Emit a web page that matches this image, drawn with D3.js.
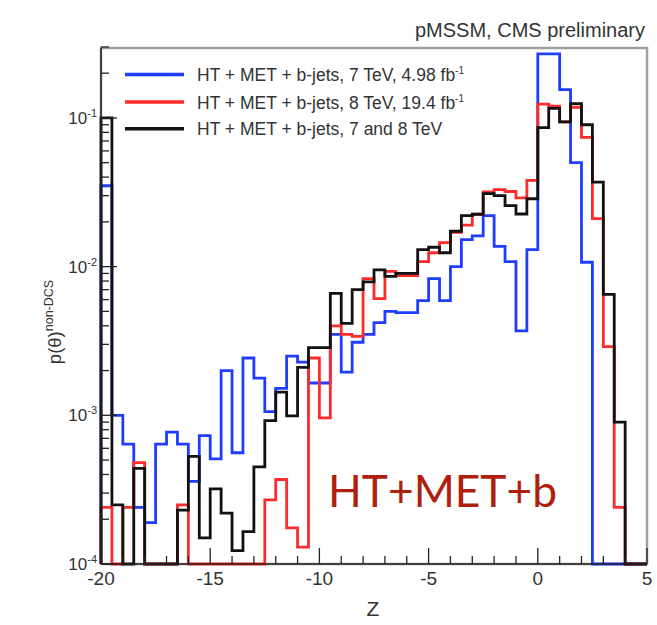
<!DOCTYPE html>
<html>
<head>
<meta charset="utf-8">
<script src="https://cdn.jsdelivr.net/npm/d3@7/dist/d3.min.js"></script>
<style>
  body { margin: 0; background: #fff; }
  svg { display: block; }
  text { font-family: "Liberation Sans", Arial, Helvetica, sans-serif; fill: #333; }
</style>
</head>
<body>
<svg id="chart" width="657" height="625"></svg>
<script>
// Bin edges of the Z histogram (50 bins of width 0.5)
const binEdges = [-20, -19.5, -19, -18.5, -18, -17.5, -17, -16.5, -16, -15.5,
  -15, -14.5, -14, -13.5, -13, -12.5, -12, -11.5, -11, -10.5,
  -10, -9.5, -9, -8.5, -8, -7.5, -7, -6.5, -6, -5.5,
  -5, -4.5, -4, -3.5, -3, -2.5, -2, -1.5, -1, -0.5,
  0, 0.5, 1, 1.5, 2, 2.5, 3, 3.5, 4, 4.5, 5];

// p(theta) per bin; 0 means an empty bin (drawn on the floor of the log axis)
const ht7TeV = [0.035, 1.0e-3, 6.4e-4, 2.4e-4, 1.9e-4, 6.4e-4, 7.7e-4, 6.4e-4, 3.6e-4, 7.3e-4,
  5.1e-4, 2.0e-3, 5.6e-4, 2.43e-3, 1.78e-3, 1.06e-3, 1.52e-3, 2.5e-3, 2.28e-3, 1.65e-3,
  1.65e-3, 3.5e-3, 1.95e-3, 3.1e-3, 3.5e-3, 4.2e-3, 5.0e-3, 4.9e-3, 4.9e-3, 5.9e-3,
  8.3e-3, 5.9e-3, 0.010, 0.0152, 0.0161, 0.022, 0.0137, 0.0108, 3.7e-3, 0.013,
  0.27, 0.27, 0.155, 0.050, 0.0107, 0, 0, 0, 0, 0];

const ht8TeV = [2.4e-4, 0, 2.4e-4, 4.8e-4, 0, 0, 0, 2.5e-4, 0, 0,
  0, 0, 0, 0, 0, 2.7e-4, 3.7e-4, 1.75e-4, 1.3e-4, 2.43e-3,
  9.6e-4, 4.0e-3, 3.5e-3, 3.4e-3, 8.3e-3, 6.1e-3, 9.3e-3, 8.7e-3, 8.7e-3, 0.0108,
  0.0124, 0.0145, 0.0170, 0.019, 0.0225, 0.0318, 0.033, 0.032, 0.029, 0.038,
  0.124, 0.12, 0.094, 0.118, 0.074, 0.021, 2.9e-3, 2.4e-4, 0, 0];

const htCombined = [0.1, 2.5e-4, 0, 4.4e-4, 0, 0, 0, 2.3e-4, 5.3e-4, 1.5e-4,
  3.2e-4, 2.2e-4, 1.23e-4, 1.65e-4, 4.5e-4, 9.2e-4, 1.43e-3, 9.9e-4, 2.1e-3, 2.85e-3,
  2.85e-3, 6.6e-3, 4.15e-3, 7.0e-3, 7.9e-3, 9.5e-3, 8.6e-3, 9.0e-3, 9.0e-3, 0.013,
  0.0135, 0.0124, 0.0173, 0.022, 0.0225, 0.031, 0.030, 0.0257, 0.0226, 0.0286,
  0.086, 0.116, 0.094, 0.125, 0.090, 0.037, 6.5e-3, 9.0e-4, 0, 0];

const seriesNames = [
  "HT + MET + b-jets, 7 TeV, 4.98 fb",
  "HT + MET + b-jets, 8 TeV, 19.4 fb",
  "HT + MET + b-jets, 7 and 8 TeV"
];
const seriesSup = ["-1", "-1", ""];
const seriesColors = ["#1f3dff", "#ff2a2a", "#111111"];

const xTickMajor = [-20, -15, -10, -5, 0, 5];
const xTickLabels = ["-20", "-15", "-10", "-5", "0", "5"];
const yTickMajor = [1e-4, 1e-3, 1e-2, 1e-1];
const yTickExp = ["-4", "-3", "-2", "-1"];

const svg = d3.select("#chart");
const plot = { left: 101, right: 647, top: 47, bottom: 564 };

const x = d3.scaleLinear().domain([-20, 5]).range([plot.left, plot.right]);
const y = d3.scaleLog().domain([1e-4, 0.3]).range([plot.bottom, plot.top]);
const yFloor = 1e-4;

// frame
svg.append("rect")
  .attr("x", plot.left).attr("y", 48)
  .attr("width", plot.right - plot.left).attr("height", plot.bottom - 48)
  .attr("fill", "none").attr("stroke", "#a0a0a0").attr("stroke-width", 2.5);

// title
svg.append("text").attr("x", 645).attr("y", 37).attr("text-anchor", "end")
  .style("font-size", "20px").text("pMSSM, CMS preliminary");

// histogram outlines
function stepPath(vals) {
  const pts = [[x(binEdges[0]), y(yFloor)]];
  vals.forEach((v, i) => {
    const yy = y(Math.max(v, yFloor));
    pts.push([x(binEdges[i]), yy]);
    pts.push([x(binEdges[i + 1]), yy]);
  });
  pts.push([x(binEdges[binEdges.length - 1]), y(yFloor)]);
  return d3.line()(pts);
}

const allSeries = [ht7TeV, ht8TeV, htCombined];
const gHist = svg.append("g");
allSeries.forEach((vals, i) => {
  gHist.append("path")
    .attr("d", stepPath(vals))
    .attr("fill", "none")
    .attr("stroke", seriesColors[i])
    .attr("stroke-width", 2.8)
    .attr("stroke-linejoin", "miter");
});

// axes lines
svg.append("line").attr("x1", plot.left).attr("x2", plot.left)
  .attr("y1", 48).attr("y2", plot.bottom).attr("stroke", "#222").attr("stroke-width", 1.5);
svg.append("line").attr("x1", plot.left).attr("x2", plot.right)
  .attr("y1", plot.bottom).attr("y2", plot.bottom).attr("stroke", "#222").attr("stroke-width", 1.5);

// x ticks (inward)
const xMinor = d3.range(-20, 5.001, 1);
const gx = svg.append("g");
xMinor.forEach(v => {
  const major = xTickMajor.includes(v);
  gx.append("line").attr("x1", x(v)).attr("x2", x(v))
    .attr("y1", plot.bottom).attr("y2", plot.bottom - (major ? 16 : 8))
    .attr("stroke", "#222").attr("stroke-width", 1.3);
});
xTickMajor.forEach((v, i) => {
  gx.append("text").attr("x", x(v)).attr("y", 585).attr("text-anchor", "middle")
    .style("font-size", "19px").text(xTickLabels[i]);
});
svg.append("text").attr("x", 373).attr("y", 616).attr("text-anchor", "middle")
  .style("font-size", "21px").text("Z");

// y ticks (inward, log minor ticks)
const gy = svg.append("g");
y.ticks(40).filter(t => t <= 0.3).forEach(t => {
  const major = yTickMajor.some(m => Math.abs(m - t) / m < 1e-6);
  gy.append("line").attr("x1", plot.left).attr("x2", plot.left + (major ? 16 : 8))
    .attr("y1", y(t)).attr("y2", y(t)).attr("stroke", "#222").attr("stroke-width", 1.3);
});
yTickMajor.forEach((t, i) => {
  const tx = gy.append("text").attr("x", 97).attr("y", y(t) + 6).attr("text-anchor", "end")
    .style("font-size", "17px");
  tx.append("tspan").text("10");
  tx.append("tspan").attr("dy", -7).style("font-size", "11px").text(yTickExp[i]);
});

// y-axis title
const yt = svg.append("text").attr("transform", "translate(61,322) rotate(-90)")
  .attr("text-anchor", "middle").style("font-size", "18.5px");
yt.append("tspan").text("p(\u03B8)");
yt.append("tspan").attr("dy", -8).style("font-size", "12.5px").text("non-DCS");

// legend
const legendY = [74.5, 102, 128.7];
seriesNames.forEach((name, i) => {
  svg.append("line").attr("x1", 125).attr("x2", 184)
    .attr("y1", legendY[i]).attr("y2", legendY[i])
    .attr("stroke", seriesColors[i]).attr("stroke-width", 3.5);
  const t = svg.append("text").attr("x", 197).attr("y", legendY[i] + 6.5)
    .style("font-size", "17.5px");
  t.append("tspan").text(name);
  if (seriesSup[i]) t.append("tspan").attr("dy", -7).style("font-size", "10px").text(seriesSup[i]);
});

// annotation
svg.append("text").attr("x", 328).attr("y", 507)
  .attr("textLength", 229).attr("lengthAdjust", "spacingAndGlyphs")
  .style("font-family", "Lato, 'Open Sans', sans-serif")
  .style("font-size", "45px").style("fill", "#b01e0e").text("HT+MET+b");
</script>
</body>
</html>
